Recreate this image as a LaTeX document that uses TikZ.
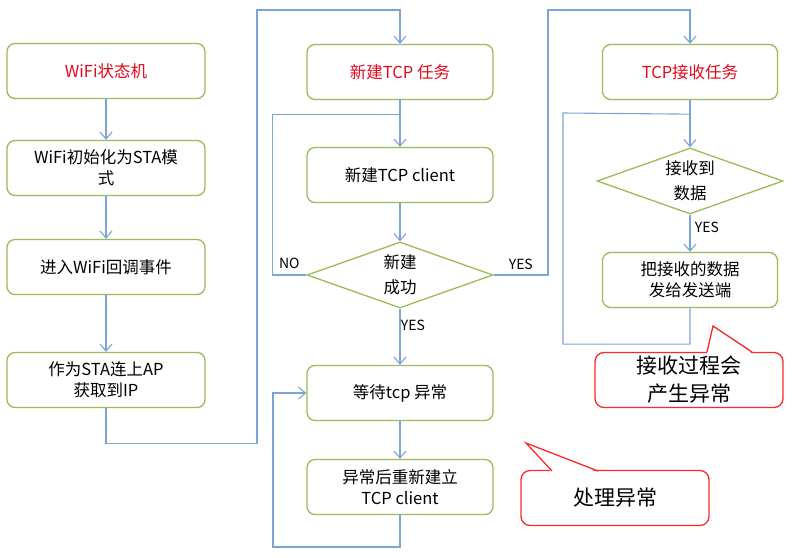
\documentclass[tikz,border=0pt]{standalone}
\usepackage{fontspec}
\setmainfont{Noto Sans CJK SC}
\usetikzlibrary{arrows.meta, shapes.geometric}

\definecolor{boxgreen}{RGB}{155,187,89}
\definecolor{lineblue}{RGB}{125,165,212}
\definecolor{titlered}{RGB}{225,10,30}
\definecolor{notered}{RGB}{250,40,40}

\begin{document}
\begin{tikzpicture}[
  x=1pt, y=-1pt,
  box/.style={draw=boxgreen, line width=1.3pt, rounded corners=8pt, minimum height=55pt,
    align=center, fill=white, font=\fontsize{16.5}{21}\selectfont},
  leftbox/.style={box, minimum width=198pt},
  midbox/.style={box, minimum width=186pt},
  rightbox/.style={box, minimum width=175pt},
  title/.style={text=titlered},
  decision/.style={diamond, draw=boxgreen, line width=1.3pt, aspect=2.8, inner sep=0pt,
    minimum width=186pt, minimum height=66pt, align=center, fill=white,
    font=\fontsize{16.5}{25}\selectfont},
  arr/.style={-{Straight Barb[length=7pt, width=12pt]}, draw=lineblue, line width=1.1pt},
  wire/.style={draw=lineblue, line width=1.1pt},
  lbl/.style={font=\fontsize{14}{14}\selectfont},
  note/.style={draw=notered, line width=1.3pt, rounded corners=9pt, fill=white,
    minimum width=188pt, minimum height=55pt, align=center, font=\fontsize{21}{28}\selectfont},
]
  \useasboundingbox (0,0) rectangle (806,557);

  % Left column: WiFi
  \node[leftbox, title] (wifi) at (106,71) {WiFi状态机};
  \node[leftbox] (init) at (106,168) {WiFi初始化为STA模\\式};
  \node[leftbox] (event) at (106,267) {进入WiFi回调事件};
  \node[leftbox] (conn) at (106,380) {作为STA连上AP\\获取到IP};

  % Middle column: TCP client
  \node[midbox, title] (tcptask) at (400,72) {新建TCP 任务};
  \node[midbox] (client) at (400,175) {新建TCP client};
  \node[decision] (succ) at (400,275) {新建\\成功};
  \node[midbox] (wait) at (400,393) {等待tcp 异常};
  \node[midbox] (rebuild) at (400,487) {异常后重新建立\\TCP client};

  % Right column: receive
  \node[rightbox, title] (rxtask) at (690,72) {TCP接收任务};
  \node[decision] (got) at (690,181) {接收到\\数据};
  \node[rightbox] (send) at (690,280) {把接收的数据\\发给发送端};

  \path (tcptask.south) ++(0,14) coordinate (joinA);
  \path (rxtask.south) ++(0,14) coordinate (joinB);

  % Connections - left column
  \draw[arr] (wifi.south) -- (init.north);
  \draw[arr] (init.south) -- (event.north);
  \draw[arr] (event.south) -- (conn.north);
  \draw[arr] (conn.south) -- ++(0,35) -| (257,10) -| (tcptask.north);

  % Connections - middle column
  \draw[arr] (tcptask.south) -- (client.north);
  \draw[arr] (client.south) -- (succ.north);
  \draw[wire] (succ.west) -- ++(-34,0) node[lbl, pos=0.5, above=2pt] {NO} |- (joinA);
  \draw[arr] (succ.east) -| node[lbl, pos=0.25, above=1pt] {YES} (548,10) -| (rxtask.north);
  \draw[arr] (succ.south) -- node[lbl, pos=0.3, right=-3pt] {YES} (wait.north);
  \draw[arr] (wait.south) -- (rebuild.north);
  \draw[arr] (rebuild.south) |- (273,547) |- (wait.west);

  % Connections - right column
  \draw[arr] (rxtask.south) -- (got.north);
  \draw[arr] (got.south) -- node[lbl, pos=0.35, right=1pt] {YES} (send.north);
  \draw[wire] (send.south) -- ++(0,36) -| (563,113) -- (joinB);

  % Callouts
  \node[note] (rxnote) at (689,380) {接收过程会\\产生异常};
  \coordinate (tip1) at (713,326);
  \fill[white] (707,353.5) -- (tip1) -- (752,353.5) -- cycle;
  \draw[notered, line width=1.3pt] (707,352) -- (tip1) -- (752,352);

  \node[note] (errnote) at (615,498) {处理异常};
  \coordinate (tip2) at (526,443);
  \fill[white] (552,472.5) -- (tip2) -- (598,472.5) -- cycle;
  \draw[notered, line width=1.3pt] (552,471) -- (tip2) -- (598,471);

\end{tikzpicture}
\end{document}
